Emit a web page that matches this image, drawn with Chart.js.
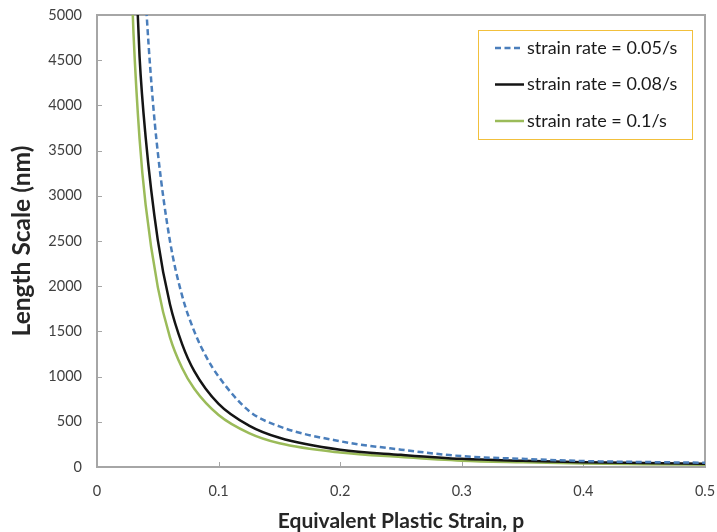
<!DOCTYPE html>
<html>
<head>
<meta charset="utf-8">
<script src="https://cdn.jsdelivr.net/npm/chart.js@4.4.0/dist/chart.umd.min.js"></script>
<style>
    html, body { margin: 0; padding: 0; background: #fff; }
    #wrap { width: 717px; height: 532px; }
</style>
</head>
<body>
<div id="wrap"><canvas id="chartLengthScale"></canvas></div>
<script>
// length scale (nm) against equivalent plastic strain, one curve per strain rate
const strain005 = [0.035, 0.04, 0.045, 0.05, 0.06, 0.07, 0.08, 0.09, 0.1, 0.125, 0.15, 0.2, 0.25, 0.3, 0.35, 0.4, 0.45, 0.5];
const length005 = [6630, 5200, 4200, 3480, 2500, 1895, 1500, 1215, 1000, 620, 449, 285, 192, 120, 90, 66, 55, 47];

const strain008 = [0.028, 0.035, 0.04, 0.05, 0.06, 0.07, 0.08, 0.1, 0.125, 0.15, 0.2, 0.25, 0.3, 0.35, 0.4, 0.45, 0.5];
const length008 = [6800, 4540, 3650, 2510, 1800, 1360, 1061, 698, 458, 323, 190, 135, 90, 68, 52, 44, 37];

const strain01 = [0.025, 0.03, 0.035, 0.04, 0.05, 0.06, 0.07, 0.08, 0.1, 0.125, 0.15, 0.2, 0.25, 0.3, 0.35, 0.4, 0.45, 0.5];
const length01 = [6600, 4800, 3630, 2900, 1990, 1435, 1095, 865, 575, 375, 262, 160, 110, 70, 52, 38, 31, 25];

const seriesLabels = ['strain rate = 0.05/s', 'strain rate = 0.08/s', 'strain rate = 0.1/s'];
const xTickValues = [0, 0.1, 0.2, 0.3, 0.4, 0.5];
const yTickValues = [0, 500, 1000, 1500, 2000, 2500, 3000, 3500, 4000, 4500, 5000];

function toPoints(xs, ys) {
    return xs.map((x, i) => ({x: x, y: ys[i]}));
}

const FONT = 'Lato, "Open Sans", sans-serif';
const AXIS_GREY = '#a6a6a6';

// frame round the plot area, with the tick marks pointing inwards
const frameTicks = {
    id: 'frameTicks',
    beforeDatasetsDraw(chart) {
        const {ctx, chartArea: a, scales} = chart;
        ctx.save();
        ctx.strokeStyle = AXIS_GREY;
        ctx.lineWidth = 2;
        ctx.strokeRect(a.left, a.top, a.right - a.left, a.bottom - a.top);
        ctx.lineWidth = 1;
        ctx.beginPath();
        xTickValues.forEach(v => {
            const px = Math.round(scales.x.getPixelForValue(v)) + 0.5;
            ctx.moveTo(px, a.bottom);
            ctx.lineTo(px, a.bottom - 5);
        });
        yTickValues.forEach(v => {
            const py = Math.round(scales.y.getPixelForValue(v)) + 0.5;
            ctx.moveTo(a.left, py);
            ctx.lineTo(a.left + 5, py);
        });
        ctx.stroke();
        ctx.restore();
    }
};

// boxed legend inside the top right of the plot
const boxLegend = {
    id: 'boxLegend',
    afterDraw(chart) {
        const ctx = chart.ctx;
        const box = {left: 478, top: 30, width: 214, height: 109};
        ctx.save();
        ctx.fillStyle = '#fff';
        ctx.fillRect(box.left, box.top, box.width, box.height);
        ctx.strokeStyle = '#f2c03c';
        ctx.lineWidth = 1;
        ctx.strokeRect(box.left + 0.5, box.top + 0.5, box.width, box.height);
        ctx.font = '18px ' + FONT;
        ctx.textBaseline = 'middle';
        ctx.fillStyle = '#1a1a1a';
        chart.data.datasets.forEach((ds, i) => {
            const y = box.top + 18 + i * 36.5;
            ctx.strokeStyle = ds.borderColor;
            ctx.lineWidth = ds.borderWidth;
            ctx.setLineDash(ds.borderDash || []);
            ctx.beginPath();
            ctx.moveTo(495, y);
            ctx.lineTo(i === 0 ? 521 : 524, y);
            ctx.stroke();
            ctx.setLineDash([]);
            ctx.fillText(ds.label, 527, y);
        });
        ctx.restore();
    }
};

function drawLengthScale() {
    const ctx = document.getElementById('chartLengthScale').getContext('2d');
    const chartLengthScale = new Chart(ctx, {
        type: 'line',
        data: {
            datasets: [
                {
                    label: seriesLabels[0],
                    data: toPoints(strain005, length005),
                    borderColor: '#4a7ebb',
                    borderWidth: 2.5,
                    borderDash: [6, 3.5]
                },
                {
                    label: seriesLabels[1],
                    data: toPoints(strain008, length008),
                    borderColor: '#141414',
                    borderWidth: 2.5
                },
                {
                    label: seriesLabels[2],
                    data: toPoints(strain01, length01),
                    borderColor: '#9bbb59',
                    borderWidth: 2.5
                }
            ]
        },
        options: {
            responsive: true,
            maintainAspectRatio: false,
            animation: false,
            cubicInterpolationMode: 'monotone',
            elements: {
                point: {radius: 0, hoverRadius: 0}
            },
            layout: {
                padding: {left: 0, top: 15, right: 12, bottom: 0}
            },
            scales: {
                x: {
                    type: 'linear',
                    min: 0,
                    max: 0.5,
                    afterFit: s => {
                        s.height = 65;
                        s.paddingLeft = 0;
                        s.paddingRight = 0;
                    },
                    afterBuildTicks: s => { s.ticks = xTickValues.map(v => ({value: v})); },
                    grid: {display: false, drawTicks: false},
                    border: {display: false},
                    ticks: {
                        padding: 16,
                        color: '#404040',
                        font: {family: FONT, size: 14.5},
                        callback: v => String(v)
                    },
                    title: {
                        display: true,
                        text: 'Equivalent Plastic Strain, p',
                        color: '#262626',
                        font: {family: FONT, size: 21, weight: 'bold', lineHeight: 1},
                        padding: {top: 0, bottom: 0}
                    }
                },
                y: {
                    type: 'linear',
                    min: 0,
                    max: 5000,
                    afterFit: s => {
                        s.width = 97;
                        s.paddingTop = 0;
                        s.paddingBottom = 0;
                    },
                    afterBuildTicks: s => { s.ticks = yTickValues.map(v => ({value: v})); },
                    grid: {display: false, drawTicks: false},
                    border: {display: false},
                    ticks: {
                        padding: 15,
                        color: '#404040',
                        font: {family: FONT, size: 14.5},
                        callback: v => String(v)
                    },
                    title: {
                        display: true,
                        text: 'Length Scale (nm)',
                        color: '#262626',
                        font: {family: FONT, size: 24.5, weight: 'bold', lineHeight: 1},
                        padding: {top: 10, bottom: 0}
                    }
                }
            },
            plugins: {
                legend: {display: false},
                tooltip: {enabled: false}
            }
        },
        plugins: [frameTicks, boxLegend]
    });
}

drawLengthScale();
</script>
</body>
</html>
